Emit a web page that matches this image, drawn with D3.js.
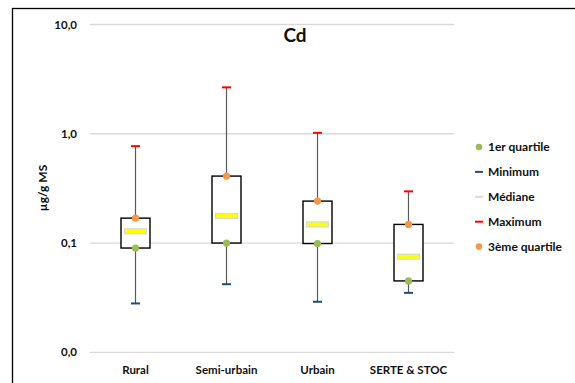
<!DOCTYPE html>
<html>
<head>
<meta charset="utf-8">
<script src="https://cdn.jsdelivr.net/npm/d3@7"></script>
<style>
  body { margin: 0; background: #fff; }
  text { font-family: Lato, "Open Sans", sans-serif; font-weight: bold; fill: #111; }
</style>
</head>
<body>
<div id="chart"></div>
<script>
// Cd box plot, log scale
const categories = ["Rural", "Semi-urbain", "Urbain", "SERTE & STOC"];
const minimum  = [0.028, 0.042, 0.029, 0.035];
const quart1   = [0.090, 0.100, 0.099, 0.045];
const mediane  = [0.128, 0.177, 0.148, 0.075];
const quart3   = [0.169, 0.410, 0.242, 0.148];
const maximum  = [0.77, 2.66, 1.02, 0.297];
const yTicks = [0.01, 0.1, 1, 10];
const yTickLabels = ["0,0", "0,1", "1,0", "10,0"];
const legendLabels = ["1er quartile", "Minimum", "Médiane", "Maximum", "3ème quartile"];

const width = 575, height = 383;
const plot = {left: 90, right: 454, top: 24.5, bottom: 352.3};

const svg = d3.select("#chart")
    .append("svg")
    .attr("width", width)
    .attr("height", height);

// chart frame
svg.append("rect")
    .attr("x", 12.5).attr("y", 8.5)
    .attr("width", 600).attr("height", 400)
    .attr("fill", "#fff")
    .attr("stroke", "#000")
    .attr("stroke-width", 1.3);

let x = d3.scaleBand()
    .domain(categories)
    .range([plot.left, plot.right]);
let y = d3.scaleLog()
    .domain([0.01, 10])
    .range([plot.bottom, plot.top]);

// gridlines
svg.append("g")
    .attr("class", "grid")
    .selectAll("line")
    .data(yTicks)
    .enter().append("line")
    .attr("x1", plot.left).attr("x2", plot.right)
    .attr("y1", d => y(d)).attr("y2", d => y(d))
    .attr("stroke", "#d9d9d9")
    .attr("stroke-width", 1.3);

// y axis labels
let yAxis = svg.append("g")
    .attr("transform", "translate(" + (plot.left - 13) + ",0)")
    .call(d3.axisLeft(y).tickValues(yTicks).tickSize(0)
        .tickFormat((d, i) => yTickLabels[i]));
yAxis.select(".domain").remove();
yAxis.selectAll("text")
    .attr("x", 0)
    .style("font-size", "11.5px")
    .style("font-family", "Lato, 'Open Sans', sans-serif");

// x axis labels
let xAxis = svg.append("g")
    .attr("transform", "translate(0," + (plot.bottom + 11) + ")")
    .call(d3.axisBottom(x).tickSize(0));
xAxis.select(".domain").remove();
xAxis.selectAll("text")
    .style("font-size", "11.5px")
    .style("font-family", "Lato, 'Open Sans', sans-serif");

// title
svg.append("text")
    .attr("x", 295)
    .attr("y", 42)
    .attr("text-anchor", "middle")
    .style("font-size", "19px")
    .text("Cd");

// y title
svg.append("text")
    .attr("transform", "translate(47,188) rotate(-90)")
    .attr("text-anchor", "middle")
    .style("font-size", "12px")
    .text("µg/g MS");

let rows = categories.map((c, i) => ({
    cat: c, min: minimum[i], q1: quart1[i], med: mediane[i], q3: quart3[i], max: maximum[i]
}));
let cx = d => x(d.cat) + x.bandwidth() / 2;
let boxW = 29;

let g = svg.selectAll(".box")
    .data(rows)
    .enter().append("g")
    .attr("class", "box");

// whisker
g.append("line")
    .attr("x1", cx).attr("x2", cx)
    .attr("y1", d => y(d.min)).attr("y2", d => y(d.max))
    .attr("stroke", "#595959")
    .attr("stroke-width", 1.2);

// box
g.append("rect")
    .attr("x", d => cx(d) - boxW / 2)
    .attr("y", d => y(d.q3))
    .attr("width", boxW)
    .attr("height", d => y(d.q1) - y(d.q3))
    .attr("fill", "#fff")
    .attr("stroke", "#000")
    .attr("stroke-width", 1.4);

// min / max dashes
g.append("line")
    .attr("x1", d => cx(d) - 4.5).attr("x2", d => cx(d) + 4.5)
    .attr("y1", d => y(d.min)).attr("y2", d => y(d.min))
    .attr("stroke", "#1f4e79").attr("stroke-width", 2);
g.append("line")
    .attr("x1", d => cx(d) - 4.5).attr("x2", d => cx(d) + 4.5)
    .attr("y1", d => y(d.max)).attr("y2", d => y(d.max))
    .attr("stroke", "#ff0000").attr("stroke-width", 2);

// median
g.append("rect")
    .attr("x", d => cx(d) - 11)
    .attr("y", d => y(d.med) - 2.5)
    .attr("width", 22).attr("height", 5)
    .attr("fill", "#ffff00")
    .attr("stroke", "#d9d9d9")
    .attr("stroke-width", 1.2);

// quartile dots
g.append("circle")
    .attr("cx", cx).attr("cy", d => y(d.q1))
    .attr("r", 3.6).attr("fill", "#9bbb59");
g.append("circle")
    .attr("cx", cx).attr("cy", d => y(d.q3))
    .attr("r", 3.6).attr("fill", "#f79646");

// legend
let legend = svg.append("g").attr("transform", "translate(479,147)");
let legendRow = legend.selectAll("g")
    .data(legendLabels)
    .enter().append("g")
    .attr("transform", (d, i) => "translate(0," + i * 24.9 + ")");
legendRow.each(function(d, i) {
    let r = d3.select(this);
    if (i === 0 || i === 4) {
        r.append("circle").attr("r", 3.3).attr("fill", i === 0 ? "#9bbb59" : "#f79646");
    } else {
        let col = ["", "#1f4e79", "#d9d9d9", "#ff0000"][i];
        r.append("line").attr("x1", -4).attr("x2", 4)
            .attr("stroke", col).attr("stroke-width", 2);
    }
    r.append("text")
        .attr("x", 9)
        .attr("dy", "0.35em")
        .style("font-size", "12px")
        .text(d);
});
</script>
</body>
</html>
